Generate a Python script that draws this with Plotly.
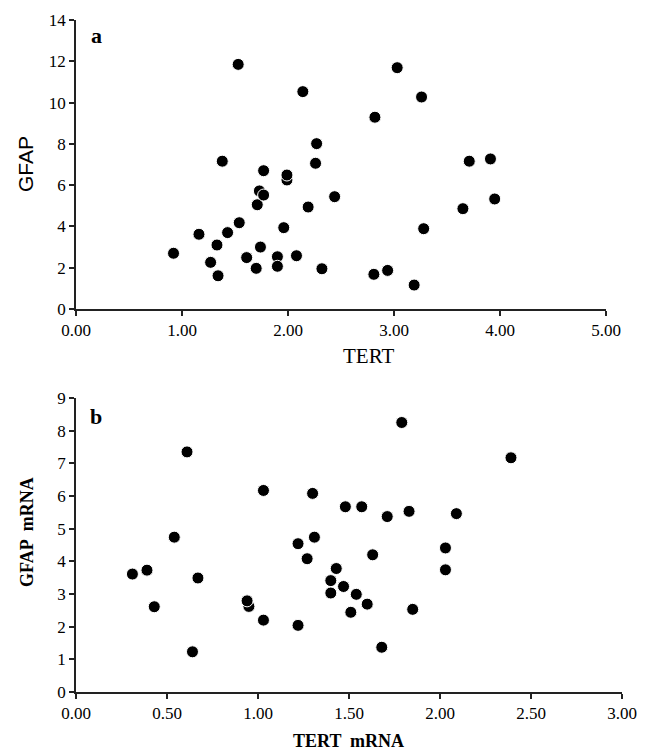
import plotly.graph_objects as go

# Panel a: TERT vs GFAP
tert_a = [0.92, 1.16, 1.27, 1.33, 1.34, 1.38, 1.43, 1.53, 1.54, 1.61, 1.70, 1.71, 1.73, 1.74,
          1.77, 1.77, 1.90, 1.90, 1.96, 1.99, 1.99, 2.08, 2.14, 2.19, 2.26, 2.27, 2.32, 2.44,
          3.03, 3.26, 2.82, 3.71, 3.91, 3.95, 3.65, 3.28, 2.81, 2.94, 3.19]
gfap_a = [2.70, 3.62, 2.26, 3.10, 1.61, 7.16, 3.70, 11.85, 4.18, 2.49, 1.97, 5.05, 5.72, 3.00,
          6.70, 5.52, 2.53, 2.07, 3.94, 6.25, 6.49, 2.58, 10.53, 4.94, 7.06, 8.01, 1.95, 5.44,
          11.69, 10.27, 9.29, 7.16, 7.27, 5.33, 4.86, 3.89, 1.68, 1.87, 1.16]

# Panel b: TERT mRNA vs GFAP mRNA
tert_b = [0.31, 0.39, 0.43, 0.54, 0.61, 0.64, 0.67, 0.95, 0.94, 1.03, 1.03, 1.22, 1.22, 1.27,
          1.30, 1.31, 1.79, 2.39, 1.48, 1.57, 1.71, 1.83, 2.09, 2.03, 2.03, 1.63, 1.43, 1.40,
          1.40, 1.47, 1.54, 1.60, 1.51, 1.85, 1.68]
gfap_b = [3.61, 3.73, 2.61, 4.74, 7.35, 1.23, 3.49, 2.62, 2.79, 6.17, 2.20, 4.54, 2.04, 4.08,
          6.08, 4.74, 8.25, 7.17, 5.67, 5.67, 5.37, 5.53, 5.46, 4.41, 3.74, 4.20, 3.78, 3.41,
          3.03, 3.23, 2.99, 2.69, 2.44, 2.53, 1.37]

xticks_a = [0, 1, 2, 3, 4, 5]
yticks_a = [0, 2, 4, 6, 8, 10, 12, 14]
xticks_b = [0, 0.5, 1, 1.5, 2, 2.5, 3]
yticks_b = [0, 1, 2, 3, 4, 5, 6, 7, 8, 9]

OFF = 8  # default page body margin
W, H = 646 - OFF, 754 - OFF
ML, MR, MT, MB = 60 - OFF, 10, 12 - OFF, 40
PW, PH = W - ML - MR, H - MT - MB

marker = dict(color="black", size=12, line=dict(color="white", width=1))

fig = go.Figure()
fig.add_trace(go.Scatter(x=tert_a, y=gfap_a, mode="markers", marker=marker,
                         xaxis="x", yaxis="y", showlegend=False))
fig.add_trace(go.Scatter(x=tert_b, y=gfap_b, mode="markers", marker=marker,
                         xaxis="x2", yaxis="y2", showlegend=False))

serif = "Liberation Serif"
tickfont = dict(family=serif, size=17, color="black")
axcommon = dict(showline=True, linecolor="#222", linewidth=1.5, ticks="outside",
                ticklen=5, tickcolor="#222", tickwidth=1.5, showgrid=False,
                zeroline=False, tickfont=tickfont, automargin=False)


def dx(x):
    return (x - OFF - ML) / PW


def dy(y):
    return 1 - (y - OFF - MT) / PH


fig.update_layout(
    width=W, height=H,
    margin=dict(l=ML, r=MR, t=MT, b=MB, autoexpand=False),
    paper_bgcolor="white", plot_bgcolor="white",
    xaxis=dict(domain=[dx(76), dx(606)], range=[0, 5], tickvals=xticks_a,
               ticktext=[f"{v:.2f}" for v in xticks_a], anchor="y", **axcommon),
    yaxis=dict(domain=[dy(309), dy(20)], range=[0, 14], tickvals=yticks_a,
               ticktext=[str(v) for v in yticks_a], anchor="x", **axcommon),
    xaxis2=dict(domain=[dx(76), dx(622)], range=[0, 3], tickvals=xticks_b,
                ticktext=[f"{v:.2f}" for v in xticks_b], anchor="y2", **axcommon),
    yaxis2=dict(domain=[dy(692), dy(398)], range=[0, 9], tickvals=yticks_b,
                ticktext=[str(v) for v in yticks_b], anchor="x2", **axcommon),
)

ann = [
    dict(text="<b>a</b>", x=dx(96), y=dy(36), font=dict(family=serif, size=22)),
    dict(text="<b>b</b>", x=dx(96), y=dy(417), font=dict(family=serif, size=22)),
    dict(text="TERT", x=dx(368), y=dy(356), font=dict(family=serif, size=21)),
    dict(text="GFAP", x=dx(26), y=dy(164), textangle=-90,
         font=dict(family="Liberation Sans", size=21)),
    dict(text="<b>TERT  mRNA</b>", x=dx(348), y=dy(741), font=dict(family=serif, size=18)),
    dict(text="<b>GFAP  mRNA</b>", x=dx(27), y=dy(532), textangle=-90,
         font=dict(family=serif, size=18)),
]
for a in ann:
    a["font"]["color"] = "black"
    fig.add_annotation(xref="paper", yref="paper", showarrow=False,
                       xanchor="center", yanchor="middle", **a)

fig.write_html("out.html")
